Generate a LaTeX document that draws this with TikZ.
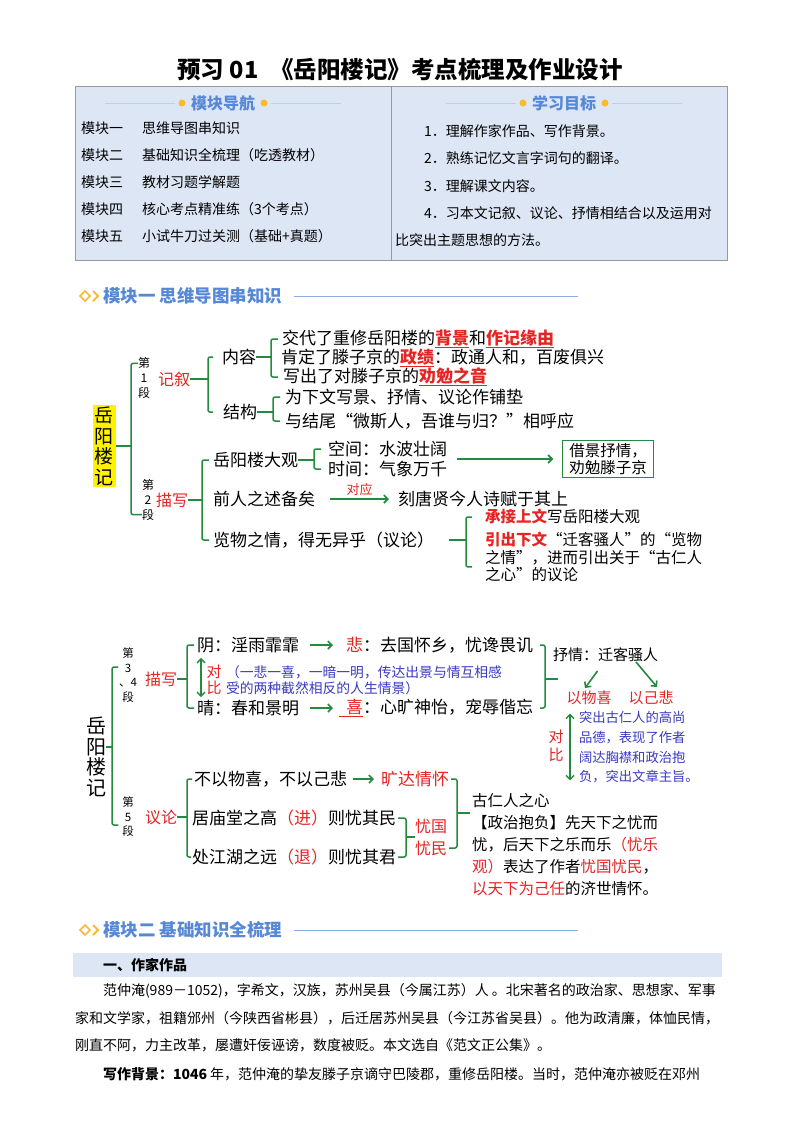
\documentclass[tikz,border=0pt]{standalone}
\usepackage{fontspec}
\setmainfont{Noto Sans CJK SC}
\usetikzlibrary{arrows.meta}

\definecolor{mapgreen}{RGB}{36,138,62}
\definecolor{mapred}{RGB}{230,36,36}
\definecolor{mapblue}{RGB}{58,58,192}
\definecolor{headblue}{RGB}{86,136,214}
\definecolor{tabfill}{RGB}{221,230,245}
\definecolor{dotorange}{RGB}{250,186,48}

\newcommand{\kp}[1]{\textcolor{mapred}{\bfseries\underline{#1}}}
\newcommand{\rd}[1]{\textcolor{mapred}{#1}}
\newcommand{\setfs}[1]{\fontsize{#1}{#1}\selectfont}
\newcommand{\bodyset}{\fontsize{14}{16}\selectfont\XeTeXlinebreaklocale "zh"\XeTeXlinebreakskip=0pt plus 1pt\relax}

\begin{document}
\begin{tikzpicture}[x=1pt, y=-1pt,
  every node/.style={inner sep=0pt, outer sep=0pt},
  t/.style={anchor=west, font=\setfs{17}},
  key/.style={text=mapred, font=\setfs{16}},
  seg/.style={align=center, font=\fontsize{12}{15}\selectfont},
  br/.style={draw=mapgreen, line width=1.5pt, rounded corners=2pt},
  garrow/.style={draw=mapgreen, line width=1.6pt, -{Straight Barb[length=4pt, width=8pt]}},
  dblarrow/.style={draw=mapgreen, line width=1.4pt, {Straight Barb[length=4pt, width=8pt]}-{Straight Barb[length=4pt, width=8pt]}},
  note/.style={text=mapblue, anchor=west, align=left},
  hd/.style={text=headblue, font=\setfs{16}\bfseries},
  sec/.style={anchor=west, text=headblue, font=\setfs{17.5}\bfseries},
  row/.style={anchor=west, font=\setfs{14}},
  body/.style={anchor=west, text width=647pt, align=justify, font=\bodyset},
]
\fill[white] (0,0) rectangle (794,1124);
\useasboundingbox (0,0) rectangle (794,1124);

% title and table
\node[font=\setfs{23.5}\bfseries] (title) at (400,70) {预习 01\enspace《岳阳楼记》考点梳理及作业设计};
\draw[gray!80, fill=tabfill] (75,86) rectangle (727,260);
\draw[gray!80] (391,86) -- (391,260);

\node[hd] (navhd) at (223,103) {模块导航};
\node[hd] (goalhd) at (564,103) {学习目标};
\foreach \h in {navhd, goalhd} {
  \fill[dotorange] ([xshift=-9pt]\h.west) circle (3.5pt);
  \fill[dotorange] ([xshift=9pt]\h.east) circle (3.5pt);
  \draw[headblue!40, line width=0.8pt] ([xshift=-16pt]\h.west) -- ++(-70,0);
  \draw[headblue!40, line width=0.8pt] ([xshift=16pt]\h.east) -- ++(70,0);
}
\foreach \m/\s [count=\i] in {模块一/思维导图串知识, 模块二/基础知识全梳理（吃透教材）, 模块三/教材习题学解题, 模块四/核心考点精准练（3个考点）, 模块五/小试牛刀过关测（基础+真题）} {
  \node[row] (mod\i) at (81,{128+27*(\i-1)}) {\m};
  \node[row] (modtxt\i) at (142,{128+27*(\i-1)}) {\s};
}
\foreach \g [count=\i] in {1．理解作家作品、写作背景。, 2．熟练记忆文言字词句的翻译。, 3．理解课文内容。, 4．习本文记叙、议论、抒情相结合以及运用对} {
  \node[row] (goal\i) at (424,{131+27.5*(\i-1)}) {\g};
}
\node[row] (goal5) at (395,240) {比突出主题思想的方法。};

% module one header
\draw[dotorange, line width=1.6pt] (80,296) -- (85,291) -- (90,296) -- (85,301) -- cycle;
\draw[dotorange, line width=1.8pt] (93,291) -- (98,296) -- (93,301);
\node[sec] (sec1) at (103,296) {模块一 思维导图串知识};
\coordinate (sec1end) at (578,296);
\draw[headblue!70, line width=0.8pt] (sec1.east) ++(12,0) -- (sec1end);

% map one
\node[fill=yellow, align=center, inner sep=2pt, font=\fontsize{19}{20.5}\selectfont] (yylj1) at (104,446) {岳\\阳\\楼\\记};
\node[seg] (d1) at (144,378) {第\\1\\段};
\node[seg] (d2) at (148,500) {第\\2\\段};
\draw[br] ([yshift=-6pt]d1.north west) -- ++(-7,0) |- ([yshift=6pt]d2.south west);
\draw[br] (yylj1.east) -- ++(15.5,0);

\node[key] (jixu) at (174,379) {记叙};
\draw[br] (jixu.east) -- ++(18,0);
\node[t] (neirong) at (222,357) {内容};
\node[t] (jiegou) at (223,412) {结构};
\draw[br] ([xshift=-9pt]neirong.west) -- ++(-5,0) |- ([xshift=-10pt]jiegou.west);

\node[t] (nr1) at (282,339) {交代了重修岳阳楼的\kp{背景}和\kp{作记缘由}};
\node[t] (nr2) at (281,358) {肯定了滕子京的\kp{政绩}：政通人和，百废俱兴};
\node[t] (nr3) at (283,377) {写出了对滕子京的\kp{劝勉之音}};
\draw[br] ([xshift=-4pt]nr1.west) -- ++(-7,0) |- ([xshift=-5pt]nr3.west);
\draw[br] (neirong.east) -- ++(15,0);
\node[t] (jg1) at (285,397) {为下文写景、抒情、议论作铺垫};
\node[t] (jg2) at (285,421) {与结尾“微斯人，吾谁与归？”相呼应};
\draw[br] ([xshift=-5pt]jg1.west) -- ++(-7,0) |- ([xshift=-5pt]jg2.west);
\draw[br] (jiegou.east) -- ++(16,0);

\node[key] (miaoxie) at (172,500) {描写};
\draw[br] (miaoxie.east) -- ++(14,0);
\node[t] (daguan) at (213,460) {岳阳楼大观};
\node[t] (qianren) at (213,499) {前人之述备矣};
\node[t] (lanwu) at (213,540) {览物之情，得无异乎（议论）};
\draw[br] ([xshift=-4pt]daguan.west) -- ++(-7,0) |- ([xshift=-4pt]lanwu.west);

\node[t] (kongjian) at (328,449) {空间：水波壮阔};
\node[t] (shijian) at (328,469) {时间：气象万千};
\draw[br] ([xshift=-7pt]kongjian.west) -- ++(-7,0) |- ([xshift=-7pt]shijian.west);
\draw[br] (daguan.east) -- ++(16,0);
\node[draw=mapgreen, line width=1.3pt, align=left, inner xsep=7pt, inner ysep=3pt, font=\fontsize{15.5}{17}\selectfont] (jiejing) at (608,459) {借景抒情，\\劝勉滕子京};
\draw[garrow] (kongjian.east |- jiejing.west) ++(10,0) -- ([xshift=-9pt]jiejing.west);

\node[t] (ketang) at (398,499) {刻唐贤今人诗赋于其上};
\draw[garrow] ([xshift=15pt]qianren.east) -- ([xshift=-9pt]ketang.west) node[midway, above=3pt, text=mapred, font=\setfs{13}] (duiying) {对应};

\draw[br] ([xshift=15pt]lanwu.east) -- ++(17,0);
\node[t, font=\setfs{15.5}] (cj) at (485,517) {\textcolor{mapred}{\bfseries 承接上文}写岳阳楼大观};
\node[t, align=left, font=\fontsize{15.5}{17.5}\selectfont] (yc) at (485,557) {\textcolor{mapred}{\bfseries 引出下文}“迁客骚人”的“览物\\之情”，进而引出关于“古仁人\\之心”的议论};
\draw[br] ([xshift=-13pt]cj.west) -- ++(-6,0) |- ([xshift=-13pt,yshift=15pt]yc.south west);

% map two
\node[align=center, font=\fontsize{20}{20.5}\selectfont] (yylj2) at (96,757) {岳\\阳\\楼\\记};
\node[seg, font=\fontsize{11.5}{14.5}\selectfont] (d34) at (128,675) {第\\3\\、4\\段};
\node[seg, font=\fontsize{11.5}{14.5}\selectfont] (d5) at (128,817) {第\\5\\段};
\draw[br] ([xshift=-1pt,yshift=8pt]d34.west) -- ++(-6,0) |- ([xshift=-4pt,yshift=-8pt]d5.west);
\draw[br] ([yshift=10pt]yylj2.east) -- ++(6.5,0);

\node[key] (miaoxie2) at (161,679) {描写};
\draw[br] (miaoxie2.east) -- ++(10,0);
\node[t] (yin) at (197,645) {阴：淫雨霏霏};
\node[t] (qing) at (197,708) {晴：春和景明};
\draw[br] ([xshift=-3pt]yin.west) -- ++(-7,0) |- ([xshift=-3pt]qing.west);
\draw[dblarrow] ([xshift=4pt,yshift=-5pt]yin.south west) -- ([xshift=4pt,yshift=3pt]qing.north west);
\node[align=center, text=mapred, font=\fontsize{15}{16}\selectfont] (duibi1) at (214,680) {对\\比};
\node[note, font=\fontsize{13.8}{16.5}\selectfont] (ganshou) at (226,680) {（一悲一喜，一暗一明，传达出景与情互相感\\受的两种截然相反的人生情景）};

\node[t] (bei) at (346,645) {\rd{悲}：去国怀乡，忧谗畏讥};
\node[t] (xi) at (339,708) {\rd{\underline{\hspace{7pt}喜}}：心旷神怡，宠辱偕忘};
\draw[garrow] ([xshift=11pt]yin.east) -- ([xshift=-13pt]bei.west);
\draw[garrow] ([xshift=11pt]qing.east) -- ([xshift=-6pt]xi.west);
\draw[br] ([xshift=7pt]bei.east) -- ++(5,0) |- ([xshift=7pt]xi.east);
\draw[br] (bei.east |- miaoxie2.east) ++(12,0) -- ++(13,0);

\node[t, font=\setfs{15}] (shuqing) at (553,655) {抒情：迁客骚人};
\node[text=mapred, font=\setfs{15}] (yiwuxi) at (589,698) {以物喜};
\node[text=mapred, font=\setfs{15}] (yijibei) at (651,698) {以己悲};
\draw[garrow] ([xshift=-8pt,yshift=-9pt]shuqing.south) -- ([xshift=-4pt,yshift=3pt]yiwuxi.north);
\draw[garrow] ([xshift=-22pt]shuqing.south east) -- ([xshift=6pt,yshift=4pt]yijibei.north);
\node[note, font=\fontsize{13.3}{19.7}\selectfont] (tuchu) at (579,747.5) {突出古仁人的高尚\\品德，表现了作者\\阔达胸襟和政治抱\\负，突出文章主旨。};
\draw[dblarrow] ([xshift=-9pt,yshift=-2pt]tuchu.north west) -- ([xshift=-9pt,yshift=3pt]tuchu.south west);
\node[align=center, text=mapred, font=\fontsize{15}{18}\selectfont] (duibi2) at (556,746) {对\\比};

\node[key] (yilun) at (161,817) {议论};
\draw[br] (yilun.east) -- ++(10,0);
\node[t] (buyi) at (194,779) {不以物喜，不以己悲};
\node[t] (miaotang) at (192,818) {居庙堂之高\rd{（进）}则忧其民};
\node[t] (jianghu) at (192,857) {处江湖之远\rd{（退）}则忧其君};
\draw[br] ([xshift=-2pt]buyi.west) -- ++(-5,0) |- ([xshift=-1pt]jianghu.west);
\node[text=mapred, anchor=west, font=\setfs{17}] (kuangda) at (381,779) {旷达情怀};
\draw[garrow] ([xshift=6pt]buyi.east) -- ([xshift=-7pt]kuangda.west);
\node[align=center, text=mapred, font=\fontsize{16}{22}\selectfont] (youguo) at (431,837) {忧国\\忧民};
\draw[br] ([xshift=2pt]miaotang.east) -- ++(8,0) |- ([xshift=2pt]jianghu.east);
\draw[br] (youguo.west) -- ++(-9,0);
\draw[br] ([xshift=2pt]kuangda.east) -- ++(6,0) |- ([xshift=2pt,yshift=-11pt]youguo.east);
\draw[br] ([xshift=8pt,yshift=-34pt]kuangda.east) -- ++(13,0);
\node[t, align=left, font=\fontsize{15.5}{22}\selectfont] (guren) at (472,845) {古仁人之心\\【政治抱负】先天下之忧而\\忧，后天下之乐而乐\rd{（忧乐}\\\rd{观）}表达了作者\rd{忧国忧民}，\\\rd{以天下为己任}的济世情怀。};

% module two header
\draw[dotorange, line width=1.6pt] (80,930) -- (85,925) -- (90,930) -- (85,935) -- cycle;
\draw[dotorange, line width=1.8pt] (93,925) -- (98,930) -- (93,935);
\node[sec] (sec2) at (103,930) {模块二 基础知识全梳理};
\coordinate (sec2end) at (578,930);
\draw[headblue!70, line width=0.8pt] (sec2.east) ++(12,0) -- (sec2end);

\fill[tabfill] (73,953) rectangle (722,977);
\node[anchor=west, font=\setfs{14}\bfseries] (zuojia) at (103,965) {一、作家作品};
\node[body] (para1) at (75,991) {\parfillskip=0pt\hspace*{28pt}范仲淹(989－1052)，字希文，汉族，苏州吴县（今属江苏）人 。北宋著名的政治家、思想家、军事};
\node[body] (para2) at (75,1018) {\parfillskip=0pt 家和文学家，祖籍邠州（今陕西省彬县），后迁居苏州吴县（今江苏省吴县）。他为政清廉，体恤民情，};
\node[anchor=west, font=\bodyset] (para3) at (75,1045) {刚直不阿，力主改革，屡遭奸佞诬谤，数度被贬。本文选自《范文正公集》。};
\node[body] (para4) at (75,1074) {\parfillskip=0pt\hspace*{28pt}{\bfseries 写作背景：1046} 年，范仲淹的挚友滕子京谪守巴陵郡，重修岳阳楼。当时，范仲淹亦被贬在邓州};
\end{tikzpicture}
\end{document}
